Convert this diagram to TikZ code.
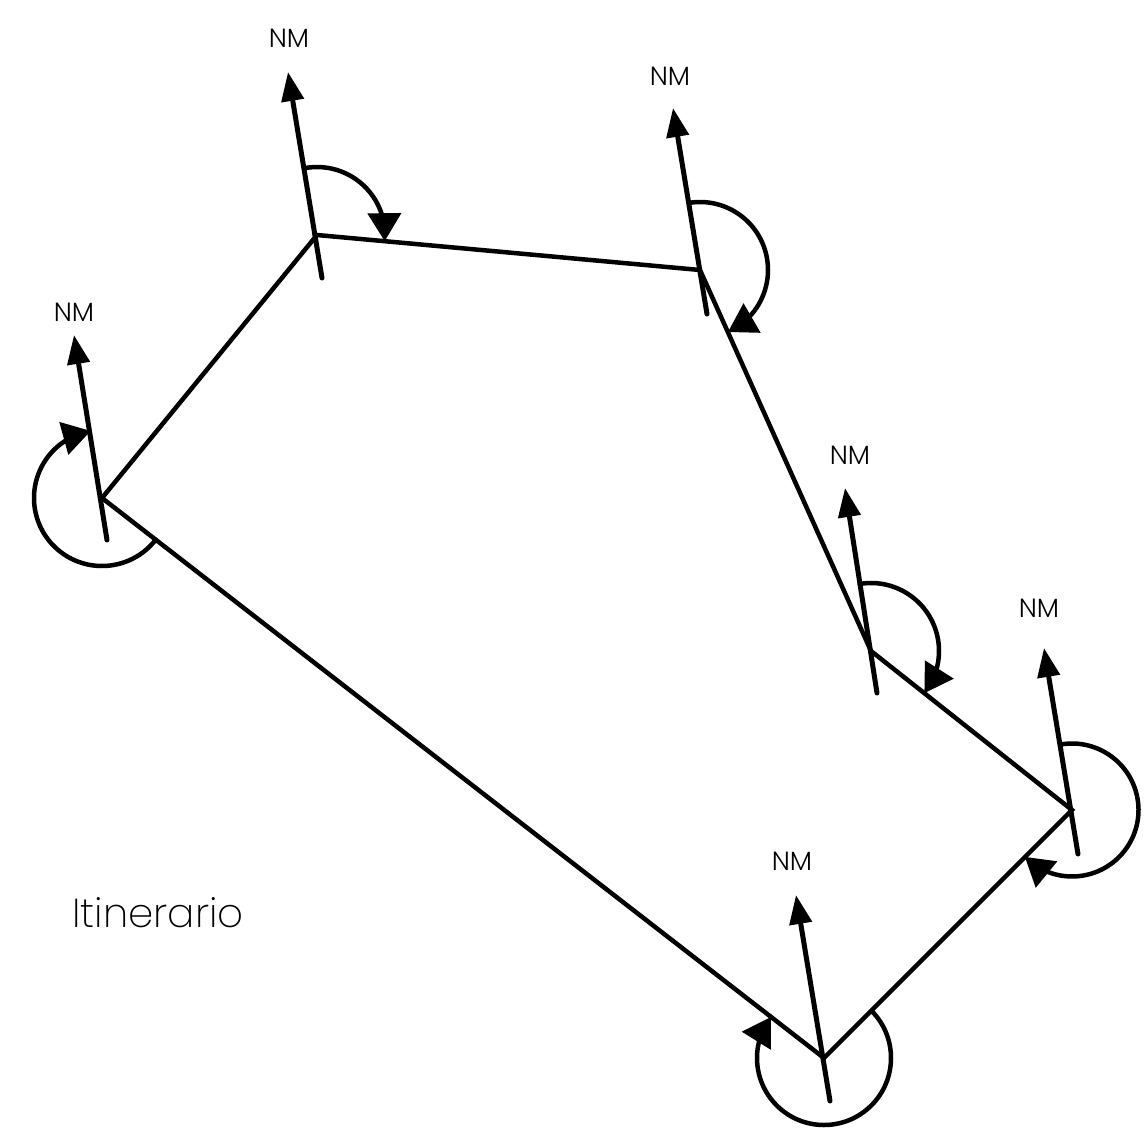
\documentclass[tikz,border=0pt]{standalone}
\usepackage{fontspec}
\setmainfont{Poppins}[UprightFont=*-Light]
\newfontfamily\titlefont{Poppins}[UprightFont=*-ExtraLight]
\usepackage{xcolor}
\usetikzlibrary{arrows.meta}
\usetikzlibrary{bending}
\begin{document}
\begin{tikzpicture}[x=0.02cm, y=-0.02cm, line width=0.09cm, line cap=round,
    nmline/.style={line width=0.1cm, -{Triangle[length=0.58cm, width=0.44cm]}},
    anglearc/.style={-{Triangle[length=0.56cm, width=0.66cm, flex=0.5]}},
    nmlabel/.style={inner sep=0pt, font=\fontsize{15}{15}\selectfont},
    title/.style={inner sep=0pt, font=\titlefont\fontsize{23}{23}\selectfont}]
  \useasboundingbox (0,0) rectangle (1147,1144);
  \coordinate (a) at (102,498);
  \coordinate (b) at (317,235);
  \coordinate (c) at (700,270);
  \coordinate (d) at (871,651);
  \coordinate (e) at (1072,810);
  \coordinate (f) at (824,1058);
  \draw (a) -- (b) -- (c) -- (d) -- (e) -- (f) -- cycle;
  % north lines
  \coordinate (atail) at (107,540);
  \coordinate (atip) at (74,335);
  \coordinate (btail) at (322,278);
  \coordinate (btip) at (288,72);
  \coordinate (ctail) at (707,314);
  \coordinate (ctip) at (673,108);
  \coordinate (dtail) at (877,693);
  \coordinate (dtip) at (845,488);
  \coordinate (etail) at (1078,854);
  \coordinate (etip) at (1044,648);
  \coordinate (ftail) at (830,1101);
  \coordinate (ftip) at (796,895);
  \draw[nmline] (atail) -- (atip);
  \draw[nmline] (btail) -- (btip);
  \draw[nmline] (ctail) -- (ctip);
  \draw[nmline] (dtail) -- (dtip);
  \draw[nmline] (etail) -- (etip);
  \draw[nmline] (ftail) -- (ftip);
  % bearings
  \draw[anglearc] (a) ++(37.8:68) arc (37.8:260.5:68);
  \draw[anglearc] (b) ++(-99.5:68) arc (-99.5:5.2:68);
  \draw[anglearc] (c) ++(-99.5:68) arc (-99.5:65.8:68);
  \draw[anglearc] (d) ++(-99.5:68) arc (-99.5:38.3:68);
  \draw[anglearc] (e) ++(-99.5:66.5) arc (-99.5:135.2:66.5);
  \draw[anglearc] (f) ++(-44.8:67) arc (-44.8:217.8:67);
  \node[nmlabel] (anm) at (74,312) {NM};
  \node[nmlabel] (bnm) at (289,38) {NM};
  \node[nmlabel] (cnm) at (670,76) {NM};
  \node[nmlabel] (dnm) at (850,455) {NM};
  \node[nmlabel] (enm) at (1039,608) {NM};
  \node[nmlabel] (fnm) at (792,861) {NM};
  \node[title] (route) at (158,913) {Itinerario};
\end{tikzpicture}
\end{document}
